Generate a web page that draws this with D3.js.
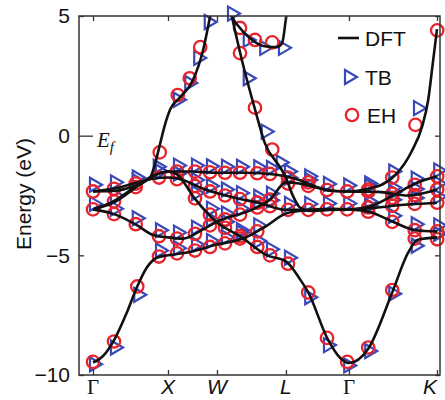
<!DOCTYPE html>
<html><head><meta charset="utf-8">
<script src="https://cdn.jsdelivr.net/npm/d3@7"></script>
<style>body{margin:0;background:#fff}svg{display:block}</style>
</head><body>
<script>
// ---- data ----
const kTicks = [0, 1, 1.653, 2.573, 3.413, 4.587];
const kLabels = ["Γ", "X", "W", "L", "Γ", "K"];
const yTicks = [5, 0, -5, -10];

// DFT bands [k, E(eV)]
const bandS = [[0,-9.48],[0.12,-9.25],[0.28,-8.55],[0.45,-7.4],[0.59,-6.3],[0.72,-5.5],[0.85,-5.1],[1.0,-5.0],[1.3,-4.85],[1.65,-4.55],[2.0,-4.3],[2.3,-3.8],[2.573,-3.25],[2.9,-3.1],[3.2,-3.06],[3.413,-3.08],[3.7,-3.2],[4.0,-3.6],[4.3,-3.95],[4.587,-4.0]];
const bandD4 = [[0,-3.08],[0.3,-2.75],[0.6,-2.1],[0.8,-1.7],[1.0,-1.5],[1.12,-1.62],[1.35,-2.6],[1.65,-3.62],[1.96,-4.2],[2.32,-5.0],[2.573,-5.25],[2.76,-6.0],[2.87,-6.55],[3.13,-8.5],[3.3,-9.3],[3.413,-9.5],[3.67,-8.9],[3.99,-6.55],[4.2,-4.9],[4.33,-4.35],[4.587,-4.25]];
const bandS2 = [[0,-3.08],[0.3,-3.3],[0.59,-3.75],[0.8,-4.15],[1.0,-4.25],[1.2,-4.3],[1.45,-3.95],[1.65,-3.6],[2.13,-3.08],[2.36,-2.67],[2.573,-1.95],[2.75,-2.0],[2.95,-2.15],[3.2,-2.3],[3.413,-2.33],[3.8,-2.35],[4.2,-2.5],[4.587,-2.25]];
const bandD3 = [[0,-2.33],[0.3,-2.2],[0.6,-1.95],[0.8,-1.8],[1.0,-1.75],[1.2,-1.85],[1.45,-2.2],[1.65,-2.4],[1.9,-2.6],[2.2,-2.8],[2.573,-3.1],[2.9,-3.1],[3.2,-3.08],[3.413,-3.08],[3.8,-3.0],[4.1,-2.9],[4.587,-2.8]];
const bandD5 = [[0,-3.08],[0.3,-2.7],[0.6,-2.05],[0.8,-1.68],[1.0,-1.5],[1.3,-1.5],[1.65,-1.55],[2.0,-1.55],[2.36,-1.6],[2.573,-1.7],[2.75,-1.85],[2.95,-2.1],[3.15,-2.3],[3.413,-2.33],[3.7,-2.2],[3.85,-2.05],[4.03,-1.65],[4.25,-0.65],[4.39,0.4],[4.47,1.5],[4.53,3.0],[4.587,4.45]];
const bandSP = [[0,-2.33],[0.3,-2.3],[0.55,-2.1],[0.7,-1.9],[0.77,-1.7],[0.83,-1.15],[0.89,-0.4],[0.95,0.35],[1.03,1.1],[1.16,1.6],[1.33,2.3],[1.47,3.6],[1.56,4.96],[1.7,7.2],[1.85,5.0],[1.99,3.1],[2.16,1.1],[2.29,-0.3],[2.49,-1.3],[2.573,-1.75],[2.65,-2.4],[2.76,-3.0],[2.9,-3.15],[3.15,-3.1],[3.413,-3.08],[3.7,-2.95],[4.0,-2.5],[4.3,-2.0],[4.587,-1.7]];
const bandU = [[1.8,5.8],[1.85,5.04],[1.96,4.5],[2.09,4.08],[2.27,3.75],[2.45,3.7],[2.52,3.85],[2.573,4.9],[2.62,6]];

// EH points (circles)
const ehPoints = [
 [0,-2.33],[0,-3.08],[0,-9.45],
 [0.28,-2.22],[0.28,-2.75],[0.28,-3.28],[0.28,-8.6],
 [0.57,-2.0],[0.57,-2.15],[0.57,-3.7],[0.59,-6.3],
 [0.88,-1.75],[0.88,-4.2],[0.88,-5.05],[0.89,-0.7],
 [1.13,1.7],[1.29,2.4],[1.43,3.7],
 [1.12,-1.5],[1.12,-1.82],[1.12,-4.3],[1.12,-4.92],
 [1.36,-1.5],[1.36,-2.1],[1.36,-2.62],[1.36,-4.1],[1.36,-4.8],
 [1.56,-1.53],[1.56,-2.33],[1.56,-3.3],[1.56,-3.75],[1.56,-4.65],
 [1.76,-1.55],[1.76,-2.5],[1.76,-3.85],[1.76,-3.5],[1.76,-4.5],
 [1.96,-1.55],[1.96,-2.65],[1.96,-4.2],[1.96,-3.3],[1.96,-4.3],
 [2.19,-1.57],[2.19,-2.8],[2.19,-4.65],[2.19,-3.0],[2.19,-4.0],
 [2.36,-1.6],[2.36,-2.95],[2.36,-5.0],[2.36,-2.67],
 [2.6,-1.75],[2.6,-3.1],[2.6,-5.35],[2.6,-2.0],
 [1.96,4.5],[2.16,4.0],[2.39,3.9],
 [1.96,3.45],[2.16,1.17],[2.39,-0.58],
 [2.87,-1.95],[2.87,-2.1],[2.87,-3.1],[2.87,-6.55],
 [3.12,-2.27],[3.12,-3.08],[3.12,-8.45],
 [3.39,-2.33],[3.39,-3.08],[3.39,-9.45],
 [3.67,-2.25],[3.67,-2.34],[3.67,-3.0],[3.67,-3.18],[3.67,-8.85],
 [3.99,-1.75],[3.99,-2.43],[3.99,-2.6],[3.99,-2.93],[3.99,-3.6],[3.99,-6.45],
 [4.29,-2.05],[4.29,-2.48],[4.29,-2.85],[4.29,-3.95],[4.29,-4.3],[4.3,0.45],
 [4.59,-1.7],[4.59,-2.25],[4.59,-2.8],[4.59,-4.0],[4.59,-4.33],[4.59,4.4]
];
// TB points (triangles)
const tbPoints = [
 [0,-2.05],[0,-2.85],[0,-9.55],[0.28,-1.95],[0.28,-2.5],[0.28,-3.05],[0.28,-8.85],
 [0.57,-1.75],[0.57,-1.9],[0.57,-3.45],[0.59,-6.65],[0.88,-1.5],[0.88,-3.95],[0.88,-4.8],[0.85,-1.3],
 [1.12,1.5],[1.27,2.2],[1.39,3.25],[1.53,4.75],
 [1.12,-1.25],[1.12,-1.58],[1.12,-4.05],[1.12,-4.7],
 [1.36,-1.25],[1.36,-1.85],[1.36,-2.4],[1.36,-3.85],[1.36,-4.55],
 [1.56,-1.28],[1.56,-2.1],[1.56,-3.05],[1.56,-3.5],[1.56,-4.4],
 [1.76,-1.3],[1.76,-2.25],[1.76,-3.6],[1.76,-3.25],[1.76,-4.25],
 [1.96,-1.3],[1.96,-2.4],[1.96,-3.95],[1.96,-3.05],[1.96,-4.05],
 [2.19,-1.32],[2.19,-2.55],[2.19,-4.4],[2.19,-2.75],[2.19,-3.75],
 [2.36,-1.35],[2.36,-2.7],[2.36,-4.75],[2.36,-2.42],
 [2.6,-1.5],[2.6,-2.85],[2.6,-5.1],[2.6,-1.75],
 [1.84,5.1],[2.05,4.0],[2.27,3.67],[2.52,3.67],
 [2.05,2.4],[2.29,0.17],[2.49,-1.12],
 [2.87,-1.7],[2.87,-1.85],[2.87,-2.85],[2.87,-6.75],
 [3.12,-2.02],[3.12,-2.83],[3.12,-8.75],
 [3.39,-2.08],[3.39,-2.83],[3.39,-9.6],
 [3.67,-2.0],[3.67,-2.1],[3.67,-2.75],[3.67,-2.93],[3.67,-9.0],
 [3.99,-1.5],[3.99,-2.18],[3.99,-2.35],[3.99,-2.68],[3.99,-3.35],[3.99,-6.6],
 [4.29,-1.8],[4.29,-2.23],[4.29,-2.6],[4.29,-3.7],[4.29,-4.6],[4.32,1.15],
 [4.59,-1.45],[4.59,-2.0],[4.59,-2.55],[4.59,-3.75],[4.59,-4.1]
];
const bands = [bandS, bandD4, bandS2, bandD3, bandD5, bandSP, bandU];

// ---- drawing ----
const W = 445, H = 400;
const L = 79, R = 440, T = 16, B = 375;
const svg = d3.select("body").append("svg").attr("width", W).attr("height", H);
const x = d3.scaleLinear().domain([-0.1867, 4.627]).range([L, R]);
const y = d3.scaleLinear().domain([-10, 5]).range([B, T]);

svg.append("defs").append("clipPath").attr("id","clip")
  .append("rect").attr("x", L).attr("y", T).attr("width", R-L).attr("height", B-T);

const tbColor = "#3a48b8", ehColor = "#e8232b";
const triPath = "M-5,-7L7,0L-5,7Z";

const gM = svg.append("g");
gM.selectAll("path.tb").data(tbPoints).join("path").attr("class","tb")
  .attr("d", triPath)
  .attr("transform", d => `translate(${x(d[0])+2},${y(d[1])})`)
  .attr("fill","none").attr("stroke", tbColor).attr("stroke-width", 2.2);
gM.selectAll("circle.eh").data(ehPoints).join("circle").attr("class","eh")
  .attr("cx", d => x(d[0])).attr("cy", d => y(d[1])).attr("r", 6.2)
  .attr("fill","none").attr("stroke", ehColor).attr("stroke-width", 2.3);

const line = d3.line().x(d => x(d[0])).y(d => y(d[1])).curve(d3.curveMonotoneX);
svg.append("g").attr("clip-path","url(#clip)")
  .selectAll("path").data(bands).join("path")
  .attr("d", line).attr("fill","none").attr("stroke","#111").attr("stroke-width", 2.6);

// axes frame
const axColor = "#333";
svg.append("rect").attr("x", L).attr("y", T).attr("width", R-L).attr("height", B-T)
  .attr("fill","none").attr("stroke", axColor).attr("stroke-width", 1.5);

// y axis ticks via d3.axisLeft
const yAxis = d3.axisLeft(y).tickValues(yTicks).tickSize(-5).tickPadding(10)
  .tickFormat(d => d < 0 ? "\u2212" + Math.abs(d) : String(d));
const gy = svg.append("g").attr("transform", `translate(${L},0)`).call(yAxis);
gy.select(".domain").remove();
gy.selectAll("line").attr("stroke", axColor).attr("stroke-width",1.3)
  .attr("x2", d => d === 0 ? 14 : 5);
gy.selectAll("text").attr("font-family","Liberation Sans, Arial, sans-serif").attr("font-size", 21).attr("fill","#111").attr("x", -9);

// right ticks
const gyr = svg.append("g").attr("transform", `translate(${R},0)`).call(d3.axisRight(y).tickValues(yTicks).tickSize(-5).tickFormat(""));
gyr.select(".domain").remove();
gyr.selectAll("line").attr("stroke", axColor).attr("stroke-width",1.3);

// x axis ticks
const xAxis = d3.axisBottom(x).tickValues(kTicks).tickSize(-5).tickFormat("");
const gx = svg.append("g").attr("transform", `translate(0,${B})`).call(xAxis);
gx.select(".domain").remove();
gx.selectAll("line").attr("stroke", axColor).attr("stroke-width",1.3);
const gxt = svg.append("g").attr("transform", `translate(0,${T})`).call(d3.axisTop(x).tickValues(kTicks).tickSize(-5).tickFormat(""));
gxt.select(".domain").remove();
gxt.selectAll("line").attr("stroke", axColor).attr("stroke-width",1.3);

// x labels
svg.append("g").selectAll("text").data(kTicks).join("text")
  .attr("x", (d,i) => x(d) + (i === 5 ? -7 : 0)).attr("y", 394)
  .attr("text-anchor","middle").attr("font-size", 21).attr("fill","#111")
  .attr("font-family", (d,i) => kLabels[i] === "Γ" ? "Liberation Serif, Times New Roman, serif" : "Liberation Sans, Arial, sans-serif")
  .attr("font-style", (d,i) => kLabels[i] === "Γ" ? "normal" : "italic")
  .text((d,i) => kLabels[i]);

// y label
svg.append("text").attr("transform", `translate(31,194) rotate(-90)`)
  .attr("text-anchor","middle").attr("font-family","Liberation Sans, Arial, sans-serif")
  .attr("font-size", 21).attr("fill","#111").text("Energy (eV)");

// Ef label
const ef = svg.append("text").attr("x", 97).attr("y", 147)
  .attr("font-family","Liberation Serif, Times New Roman, serif").attr("font-style","italic")
  .attr("font-size", 21).attr("fill","#111");
ef.append("tspan").text("E");
ef.append("tspan").attr("font-size", 15).attr("dy", 5).text("f");

// legend
const lg = svg.append("g").attr("font-family","Liberation Sans, Arial, sans-serif").attr("font-size", 21).attr("fill","#111");
lg.append("line").attr("x1", 338).attr("x2", 359).attr("y1", 38).attr("y2", 38).attr("stroke","#111").attr("stroke-width", 2.6);
lg.append("text").attr("x", 365).attr("y", 38).attr("dy","0.36em").text("DFT");
lg.append("path").attr("d", triPath).attr("transform","translate(350,77)").attr("fill","none").attr("stroke", tbColor).attr("stroke-width",2.2);
lg.append("text").attr("x", 365).attr("y", 77).attr("dy","0.36em").text("TB");
lg.append("circle").attr("cx", 352).attr("cy", 115).attr("r", 6.2).attr("fill","none").attr("stroke", ehColor).attr("stroke-width",2.3);
lg.append("text").attr("x", 367).attr("y", 115).attr("dy","0.36em").text("EH");
</script>
</body></html>
